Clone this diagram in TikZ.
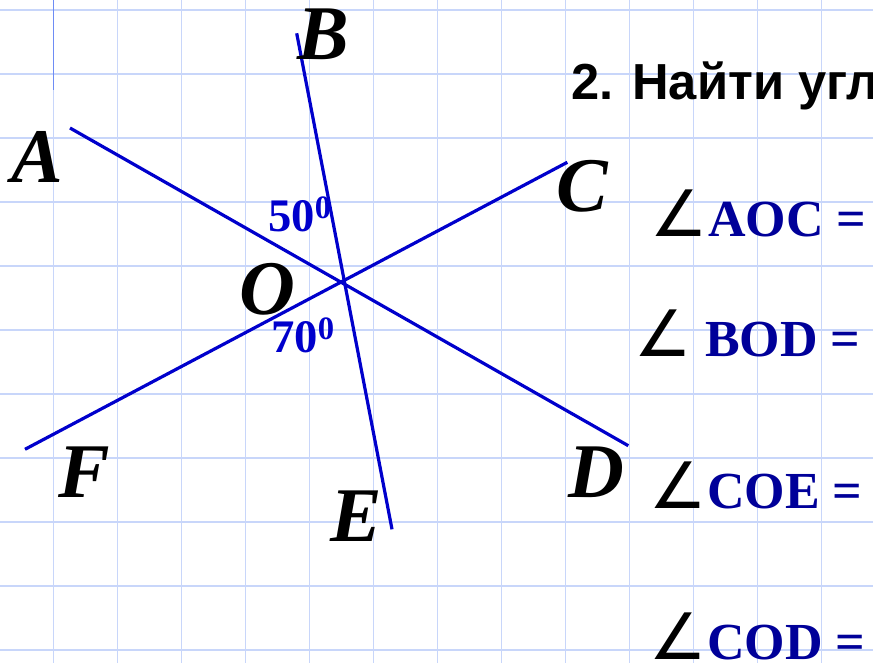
\documentclass[tikz,border=0pt]{standalone}
\usepackage{fontspec}
\setmainfont{Liberation Serif}
\newfontfamily\titlefont{Liberation Sans}
\newfontfamily\anglefont{DejaVu Sans}
\usetikzlibrary{positioning}
\definecolor{gridblue}{RGB}{200,214,250}
\definecolor{marginblue}{RGB}{110,140,245}
\definecolor{lineblue}{RGB}{0,0,204}
\definecolor{navy}{RGB}{0,0,153}
\newcommand{\angsym}{{\color{black}\mdseries\anglefont\fontsize{48}{48}\selectfont ∠}}
\tikzset{
  ptlabel/.style={font=\fontsize{58}{58}\selectfont\bfseries\itshape, inner sep=0pt, anchor=base},
  deglabel/.style={font=\fontsize{35}{35}\selectfont\bfseries, text=lineblue, inner sep=0pt, anchor=base west},
  anglabel/.style={font=\fontsize{39}{39}\selectfont\bfseries, text=navy, inner sep=0pt, anchor=base west},
  rayline/.style={draw=lineblue, line width=2.4pt},
}

\begin{document}
\begin{tikzpicture}[x=0.75pt,y=0.75pt,yscale=-1,xscale=1]
\path[use as bounding box, fill=white] (0,0) rectangle (873,663);

%Grid
\foreach \gx in {53.7,117.7,...,830} \draw[gridblue, line width=1.1pt] (\gx,0) -- (\gx,663);
\foreach \gy in {10,74,...,660} \draw[gridblue, line width=1.1pt] (0,\gy) -- (873,\gy);
%Margin mark
\coordinate (m1) at (53.7,0);
\coordinate (m2) at (53.7,90);
\draw[marginblue, line width=1pt] (m1) -- (m2);

%Ray ends
\coordinate (A) at (70,128);
\coordinate (D) at (628.3,445.7);
\coordinate (C) at (567.3,162.3);
\coordinate (F) at (25,449.3);
\coordinate (B) at (296.7,33.3);
\coordinate (E) at (392,529.3);

%Straight Lines
\draw[rayline] (A) -- (D);
\draw[rayline] (F) -- (C);
\draw[rayline] (B) -- (E);

% Text Node
\node[ptlabel] (lA) at (37,182) {A};
\node[ptlabel] (lB) at (323,60) {B};
\node[ptlabel] (lC) at (582,211) {C};
\node[ptlabel] (lO) at (267,314) {O};
\node[ptlabel] (lF) at (84,497) {F};
\node[ptlabel] (lE) at (356,541) {E};
\node[ptlabel] (lD) at (596,497) {D};
% Text Node
\node[deglabel] (d50) at (268,231) {50\textsuperscript{0}};
\node[deglabel] (d70) at (271,352) {70\textsuperscript{0}};
% Text Node
\node[inner sep=0pt, anchor=base west, font=\titlefont\fontsize{38}{38}\selectfont\bfseries] (title) at (571,100) {2. Найти угл};
% Text Node
\node[anglabel] (qAOC) at (650.5,236) {\angsym AOC =};
\node[anglabel] (qBOD) at (634.5,356) {\angsym\ BOD =};
\node[anglabel] (qCOE) at (649.5,508) {\angsym COE =};
\node[anglabel] (qCOD) at (649.5,659) {\angsym COD =};

\end{tikzpicture}
\end{document}
